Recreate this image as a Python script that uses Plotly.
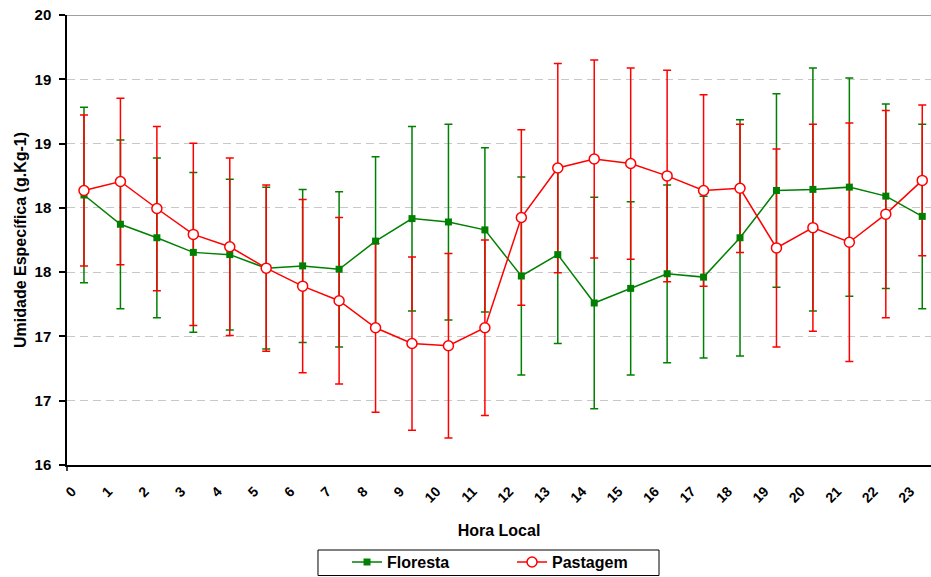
import plotly.graph_objects as go

hours = list(range(24))
hour_labels = [str(h) for h in hours]

floresta_mean = [18.40, 18.14, 18.02, 17.89, 17.87, 17.75, 17.77, 17.74, 17.99, 18.19, 18.16, 18.09,
                 17.68, 17.87, 17.44, 17.57, 17.70, 17.67, 18.02, 18.44, 18.45, 18.47, 18.39, 18.21]
floresta_err = [0.78, 0.75, 0.71, 0.71, 0.67, 0.72, 0.68, 0.69, 0.75, 0.82, 0.87, 0.73,
                0.88, 0.79, 0.94, 0.77, 0.79, 0.72, 1.05, 0.86, 1.08, 0.97, 0.82, 0.82]

pastagem_mean = [18.44, 18.52, 18.28, 18.05, 17.94, 17.75, 17.59, 17.46, 17.22, 17.08, 17.06, 17.22,
                 18.20, 18.64, 18.72, 18.68, 18.57, 18.44, 18.46, 17.93, 18.11, 17.98, 18.23, 18.53]
pastagem_err = [0.67, 0.74, 0.73, 0.81, 0.79, 0.74, 0.77, 0.74, 0.75, 0.77, 0.82, 0.78,
                0.78, 0.93, 0.88, 0.85, 0.94, 0.85, 0.57, 0.88, 0.92, 1.06, 0.92, 0.67]

y_min, y_max = 16, 20
y_tick_text = ["16", "17", "17", "18", "18", "19", "19", "20"]
y_tick_vals = [y_min + k * (y_max - y_min) / 7 for k in range(8)]

GREEN = "#008000"
RED = "#FF0000"
FONT = "Liberation Sans, Arial, sans-serif"

fig = go.Figure()

# error bars first (drawn beneath lines and markers)
fig.add_trace(go.Scatter(
    x=hours, y=floresta_mean, mode="markers", showlegend=False, hoverinfo="skip",
    marker=dict(size=1, color="rgba(0,0,0,0)"),
    error_y=dict(type="data", array=floresta_err, visible=True, color=GREEN, thickness=1.5, width=4),
))
fig.add_trace(go.Scatter(
    x=hours, y=pastagem_mean, mode="markers", showlegend=False, hoverinfo="skip",
    marker=dict(size=1, color="rgba(0,0,0,0)"),
    error_y=dict(type="data", array=pastagem_err, visible=True, color=RED, thickness=1.5, width=4),
))
fig.add_trace(go.Scatter(
    x=hours, y=floresta_mean, mode="lines+markers", name="Floresta",
    line=dict(color=GREEN, width=1.5),
    marker=dict(symbol="square", size=7, color=GREEN),
))
fig.add_trace(go.Scatter(
    x=hours, y=pastagem_mean, mode="lines+markers", name="Pastagem",
    line=dict(color=RED, width=1.5),
    marker=dict(symbol="circle", size=10, color="white", line=dict(color=RED, width=1.5)),
))

# top border of plot area
fig.add_shape(type="line", xref="paper", yref="y", x0=0, x1=1, y0=y_max, y1=y_max,
              line=dict(color="#808080", width=1.5))
# small tick below the origin
fig.add_shape(type="line", xref="paper", yref="paper", x0=0, x1=0, y0=0, y1=-6 / 450,
              line=dict(color="black", width=1.5))
# legend frame
fig.add_shape(type="rect", xref="paper", yref="paper",
              x0=0.2905, x1=0.6852, y0=-0.1889, y1=-0.2456,
              line=dict(color="black", width=1), fillcolor="rgba(0,0,0,0)")

fig.update_layout(
    width=931, height=577,
    margin=dict(l=67, r=0, t=15, b=112, autoexpand=False),
    paper_bgcolor="white", plot_bgcolor="white",
    font=dict(family=FONT, color="black", size=13),
    xaxis=dict(
        range=[-0.466, 23.24], automargin=False,
        tickmode="array", tickvals=hours, ticktext=hour_labels,
        tickangle=-45, tickfont=dict(size=14, weight="bold"),
        showgrid=False, zeroline=False,
        showline=True, linecolor="black", linewidth=1.5,
        ticks="", ticklabelstandoff=11, ticklabelshift=-12,
        title=dict(text="Hora Local", font=dict(size=16, weight="bold"), standoff=20),
    ),
    yaxis=dict(
        range=[y_min, y_max], automargin=False,
        tickmode="array", tickvals=y_tick_vals, ticktext=y_tick_text,
        tickfont=dict(size=15, weight="bold"),
        showgrid=True, gridcolor="#c8c8c8", gridwidth=1, griddash="8px,5px",
        zeroline=False,
        showline=True, linecolor="black", linewidth=1.5,
        ticks="outside", ticklen=6, tickcolor="black", tickwidth=1.5,
        ticklabelstandoff=5,
        title=dict(text="Umidade Específica (g.Kg-1)", font=dict(size=16, weight="bold"), standoff=4),
    ),
    legend=dict(
        orientation="h", x=0.3241, xanchor="left", y=-0.178, yanchor="top",
        borderwidth=0, bgcolor="rgba(0,0,0,0)",
        font=dict(size=16, weight="bold"),
        entrywidth=120, entrywidthmode="pixels",
        traceorder="normal",
    ),
)

fig.write_html(
    "out.html",
    config={"displayModeBar": False},
    post_script="document.body.style.margin='0';document.body.style.overflow='hidden';",
)
